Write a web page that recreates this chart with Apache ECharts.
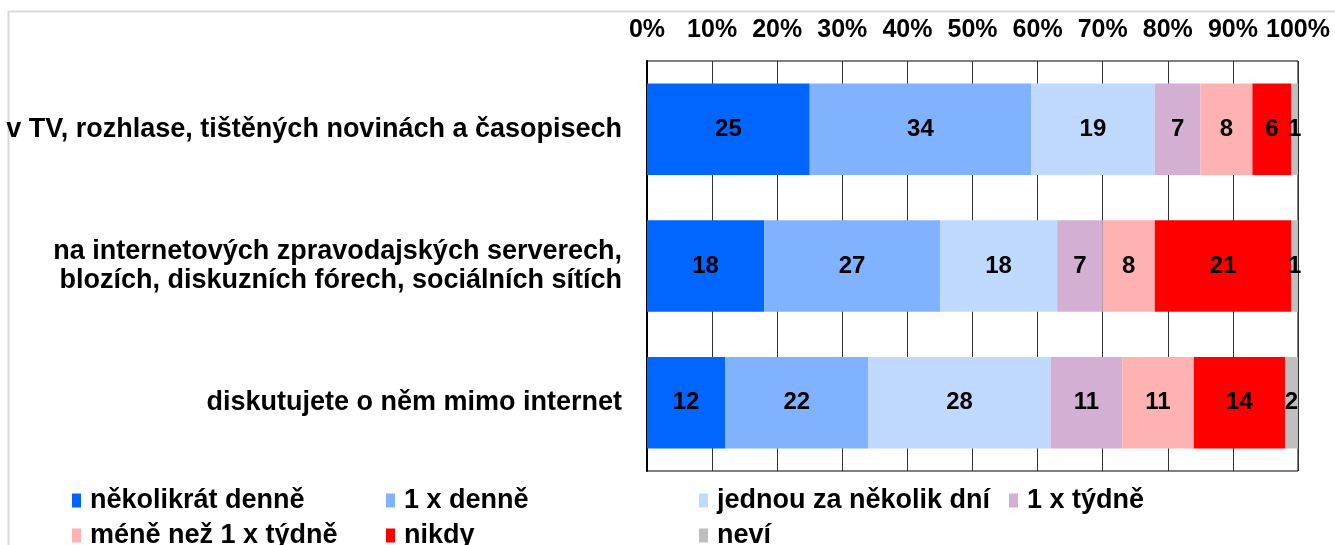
<!DOCTYPE html>
<html>
<head>
<meta charset="utf-8">
<script src="https://cdn.jsdelivr.net/npm/echarts@6/dist/echarts.min.js"></script>
<style>
	html, body {margin: 0; padding: 0; background: #fff;}
	#chart_1 {width: 1335px; height: 545px;}
</style>
</head>
<body>
<div id="chart_1"></div>
<script>
//	raw data
var categories = [
	'v TV, rozhlase, tištěných novinách a časopisech',
	'na internetových zpravodajských serverech,\nblozích, diskuzních fórech, sociálních sítích',
	'diskutujete o něm mimo internet'
];
var seriesNames = ['několikrát denně', '1 x denně', 'jednou za několik dní', '1 x týdně', 'méně než 1 x týdně', 'nikdy', 'neví'];
var nekolikratDenne = [25, 18, 12],
	jednouDenne = [34, 27, 22],
	zaNekolikDni = [19, 18, 28],
	jednouTydne = [7, 7, 11],
	menezTydne = [8, 8, 11],
	nikdy = [6, 21, 14],
	nevi = [1, 1, 2];
var seriesData = [nekolikratDenne, jednouDenne, zaNekolikDni, jednouTydne, menezTydne, nikdy, nevi];
var tickLabels = ['0%', '10%', '20%', '30%', '40%', '50%', '60%', '70%', '80%', '90%', '100%'];

var colors = ['#0066ff', '#80b2ff', '#c0daff', '#d3b0d3', '#ffb2b2', '#ff0000', '#bfbfbf'];
var fontFam = '"Liberation Sans", Arial, sans-serif';

//	legend positions (two rows, four columns)
var legendPos = [[72, 487], [386, 487], [699, 487], [1009, 487], [72, 522], [386, 522], [699, 522]];

var series = [];
for(var i=0; i<seriesNames.length; i++) {
	series.push({
		name: seriesNames[i],
		type: 'bar',
		stack: 'total',
		barCategoryGap: '33%',
		itemStyle: {color: colors[i]},
		label: {
			show: true,
			position: 'inside',
			color: '#000',
			fontWeight: 'bold',
			fontSize: 24,
			fontFamily: fontFam
		},
		emphasis: {disabled: true},
		data: seriesData[i]
	});
}

var legends = [];
for(var i=0; i<seriesNames.length; i++) {
	legends.push({
		data: [seriesNames[i]],
		left: legendPos[i][0],
		top: legendPos[i][1],
		padding: 0,
		icon: 'rect',
		itemWidth: 9,
		itemHeight: 14,
		selectedMode: false,
		textStyle: {
			color: '#000',
			fontWeight: 'bold',
			fontSize: 27,
			fontFamily: fontFam,
			padding: [0, 0, 0, 4]
		}
	});
}

var myChart = echarts.init(document.getElementById('chart_1'));
var option = {
	animation: false,
	color: colors,
	graphic: [{
		type: 'rect',
		shape: {x: 8.5, y: 11.5, width: 1400, height: 600},
		style: {fill: 'none', stroke: '#d9d9d9', lineWidth: 2},
		silent: true
	}],
	legend: legends,
	grid: {
		left: 647,
		right: 37,
		top: 61,
		height: 410,
		show: true,
		borderColor: '#000',
		borderWidth: 1
	},
	xAxis: {
		type: 'value',
		position: 'top',
		min: 0,
		max: 100,
		interval: 10,
		axisLine: {show: false},
		axisTick: {show: false},
		splitLine: {lineStyle: {color: '#333', width: 1}},
		axisLabel: {
			margin: 18,
			color: '#000',
			fontWeight: 'bold',
			fontSize: 25,
			fontFamily: fontFam,
			formatter: function(v) { return tickLabels[Math.round(v/10)]; }
		}
	},
	yAxis: {
		type: 'category',
		inverse: true,
		data: categories,
		axisLine: {lineStyle: {color: '#000', width: 2}},
		axisTick: {show: false},
		axisLabel: {
			margin: 25,
			color: '#000',
			fontWeight: 'bold',
			fontSize: 27,
			lineHeight: 29,
			fontFamily: fontFam
		}
	},
	series: series
};
myChart.setOption(option);
</script>
</body>
</html>
